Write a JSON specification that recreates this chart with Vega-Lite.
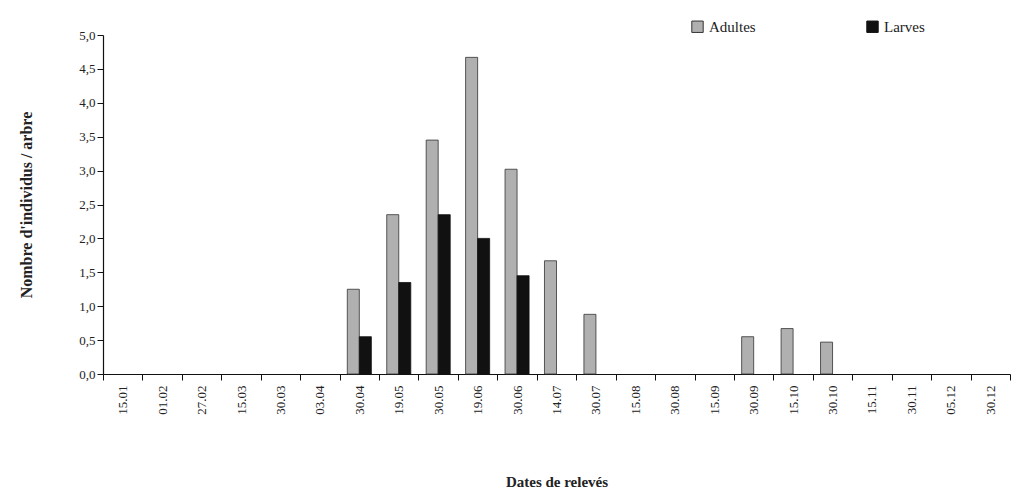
{
  "$schema": "https://vega.github.io/schema/vega-lite/v6.json",
  "autosize": "none",
  "width": 907,
  "height": 339,
  "padding": {"left": 103, "top": 35, "right": 11, "bottom": 123},
  "background": "white",
  "config": {
    "font": "Liberation Serif",
    "view": {"stroke": null},
    "axis": {"domainColor": "#111", "tickColor": "#111", "labelColor": "#222", "titleColor": "#222", "labelFont": "Liberation Serif", "titleFont": "Liberation Serif", "grid": false}
  },
  "data": {
    "values": [
      {"date": "30.04", "type": "Adultes", "value": 1.25}, {"date": "30.04", "type": "Larves", "value": 0.55},
      {"date": "19.05", "type": "Adultes", "value": 2.35}, {"date": "19.05", "type": "Larves", "value": 1.35},
      {"date": "30.05", "type": "Adultes", "value": 3.45}, {"date": "30.05", "type": "Larves", "value": 2.35},
      {"date": "19.06", "type": "Adultes", "value": 4.67}, {"date": "19.06", "type": "Larves", "value": 2.0},
      {"date": "30.06", "type": "Adultes", "value": 3.02}, {"date": "30.06", "type": "Larves", "value": 1.45},
      {"date": "14.07", "type": "Adultes", "value": 1.67},
      {"date": "30.07", "type": "Adultes", "value": 0.88},
      {"date": "30.09", "type": "Adultes", "value": 0.55},
      {"date": "15.10", "type": "Adultes", "value": 0.67},
      {"date": "30.10", "type": "Adultes", "value": 0.47}
    ]
  },
  "mark": {"type": "bar", "strokeWidth": 0.8},
  "encoding": {
    "x": {
      "field": "date", "type": "nominal",
      "scale": {"domain": ["15.01", "01.02", "27.02", "15.03", "30.03", "03.04", "30.04", "19.05", "30.05", "19.06", "30.06", "14.07", "30.07", "15.08", "30.08", "15.09", "30.09", "15.10", "30.10", "15.11", "30.11", "05.12", "30.12"], "paddingInner": 0, "paddingOuter": 0},
      "axis": {"title": "Dates de relevés", "titleFontSize": 15, "titleFontWeight": "bold", "titlePadding": 60, "labelAngle": -90, "labelFontSize": 13, "labelPadding": 5, "tickBand": "extent", "tickSize": 6, "domainWidth": 1.2}
    },
    "xOffset": {"field": "type", "type": "nominal", "scale": {"domain": ["Adultes", "Larves"], "paddingInner": 0, "paddingOuter": 0.64}},
    "y": {
      "field": "value", "type": "quantitative",
      "scale": {"domain": [0, 5], "nice": false},
      "axis": {"title": "Nombre d'individus / arbre", "titleFontSize": 16, "titleFontWeight": "bold", "titlePadding": 44, "values": [0, 0.5, 1, 1.5, 2, 2.5, 3, 3.5, 4, 4.5, 5], "labelExpr": "replace(format(datum.value, '.1f'), '.', ',')", "labelFontSize": 13, "tickSize": 6, "domainWidth": 1.2}
    },
    "color": {
      "field": "type", "type": "nominal",
      "scale": {"domain": ["Adultes", "Larves"], "range": ["#b0b0b0", "#111111"]},
      "legend": {"title": null, "orient": "none", "legendX": 587, "legendY": -16, "direction": "horizontal", "symbolType": "square", "symbolSize": 130, "symbolStrokeColor": "#222", "symbolStrokeWidth": 1, "labelFontSize": 15, "labelColor": "#222", "labelFont": "Liberation Serif", "columnPadding": 108}
    },
    "stroke": {"field": "type", "type": "nominal", "scale": {"domain": ["Adultes", "Larves"], "range": ["#333333", "#111111"]}, "legend": null}
  }
}
